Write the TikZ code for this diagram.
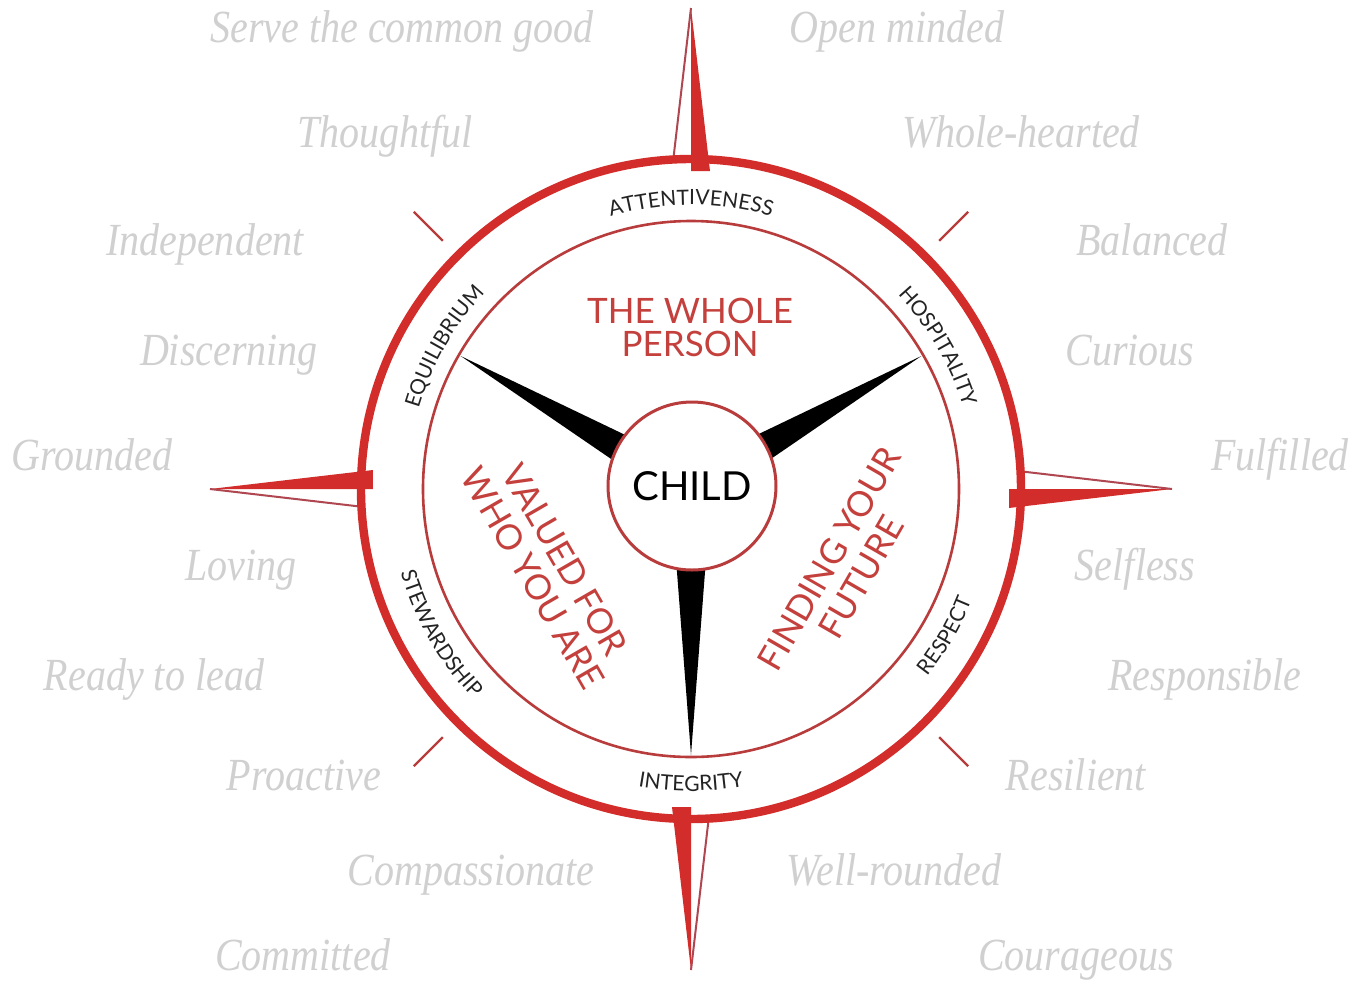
\documentclass[tikz,border=0pt]{standalone}
\usepackage{fontspec}
\usepackage{graphicx}
\setmainfont{Liberation Serif}
\newfontfamily\gillfont{Lato}
\usetikzlibrary{decorations.text,calc}
\definecolor{redmain}{RGB}{210,45,42}
\definecolor{redthin}{RGB}{185,60,60}
\definecolor{redtext}{RGB}{196,64,60}
\definecolor{wordgray}{RGB}{208,208,208}
\definecolor{ptline}{RGB}{175,70,80}
\definecolor{labgray}{RGB}{35,35,35}
\newcommand\gw[1]{\scalebox{0.87}[1]{#1}}
\newcommand\labfont{\gillfont\fontsize{10.5}{10.5}\selectfont\color{labgray}}
\newcommand\cpoint[1]{%
  \fill[redmain] (#1:481) -- (#1:318) -- ($(#1:318)+(#1-90:19)$) -- cycle;
  \draw[ptline, line width=1pt] (#1:481) -- ($(#1:327)+(#1+90:18)$);
}
\newcommand\toplab[3]{% angle, radius, text
  \path[decorate, decoration={text along path, text align=center, text={|\labfont|#3}}]
    ($(0,0)+(#1+45:#2)$) arc[start angle=#1+45, end angle=#1-45, radius=#2];
}
\newcommand\botlab[3]{%
  \path[decorate, decoration={text along path, text align=center, text={|\labfont|#3}}]
    ($(0,0)+(#1-45:#2)$) arc[start angle=#1-45, end angle=#1+45, radius=#2];
}
\begin{document}
\begin{tikzpicture}[x=0.5pt,y=0.5pt,
  word/.style={text=wordgray, font=\fontsize{23}{23}\selectfont\itshape, anchor=base, inner sep=0pt},
  bigred/.style={text=redtext, font=\gillfont\fontsize{17.5}{16.5}\selectfont, align=center, inner sep=0pt},
  bigrot/.style={bigred, font=\gillfont\fontsize{17.5}{18.5}\selectfont},
  spoke/.style={fill=black},
  tick/.style={draw=redthin, line width=1.2pt},
]
\useasboundingbox (-691,489) rectangle (673,-498);
\fill[white] (-691,489) rectangle (673,-498);

% compass points
\cpoint{90}
\cpoint{0}
\cpoint{270}
\cpoint{180}

% diagonal ticks
\foreach \a in {45,135,225,315} \draw[tick] (\a:351) -- (\a:392);

% rings
\draw[redmain, line width=4.2pt] (0,0) circle[radius=330];
\draw[redthin, line width=1.3pt] (0,0) circle[radius=268];

% spokes
\foreach \a in {150,30,-90}
  \fill[spoke] (\a:266) -- ($(\a:70)+(\a+90:15)$) -- ($(\a:70)+(\a-90:15)$) -- cycle;

% centre
\node[circle, draw=redthin, line width=1.5pt, fill=white, minimum size=84pt, inner sep=0pt] (child) at (1,3)
  {\gillfont\fontsize{20}{20}\selectfont CHILD};

% ring labels
\toplab{90}{284}{ATTENTIVENESS}
\toplab{30}{284}{HOSPITALITY}
\toplab{150}{284}{EQUILIBRIUM}
\botlab{-90}{302}{INTEGRITY}
\botlab{-30}{302}{RESPECT}
\botlab{-150}{302}{STEWARDSHIP}

% big red texts
\node[bigred] (whole) at (-1,162) {THE WHOLE\\PERSON};
\node[bigrot, rotate=-60] (valued) at (-142,-80) {VALUED FOR\\WHO YOU ARE};
\node[bigrot, rotate=60] (finding) at (154,-79) {FINDING YOUR\\FUTURE};

% grey words left
\node[word] (w1) at (-289,447) {\gw{Serve the common good}};
\node[word] (w2) at (-306,342) {\gw{Thoughtful}};
\node[word] (w3) at (-486,234) {\gw{Independent}};
\node[word] (w4) at (-462,124) {\gw{Discerning}};
\node[word] (w5) at (-599,19) {\gw{Grounded}};
\node[word] (w6) at (-450,-91) {\gw{Loving}};
\node[word] (w7) at (-537,-201) {\gw{Ready to lead}};
\node[word] (w8) at (-387,-301) {\gw{Proactive}};
\node[word] (w9) at (-220,-396) {\gw{Compassionate}};
\node[word] (w10) at (-388,-481) {\gw{Committed}};
% grey words right
\node[word] (v1) at (206,447) {\gw{Open minded}};
\node[word] (v2) at (330,342) {\gw{Whole-hearted}};
\node[word] (v3) at (461,234) {\gw{Balanced}};
\node[word] (v4) at (439,124) {\gw{Curious}};
\node[word] (v5) at (589,19) {\gw{Fulfilled}};
\node[word] (v6) at (444,-91) {\gw{Selfless}};
\node[word] (v7) at (514,-201) {\gw{Responsible}};
\node[word] (v8) at (385,-301) {\gw{Resilient}};
\node[word] (v9) at (203,-396) {\gw{Well-rounded}};
\node[word] (v10) at (385,-481) {\gw{Courageous}};
\end{tikzpicture}
\end{document}
